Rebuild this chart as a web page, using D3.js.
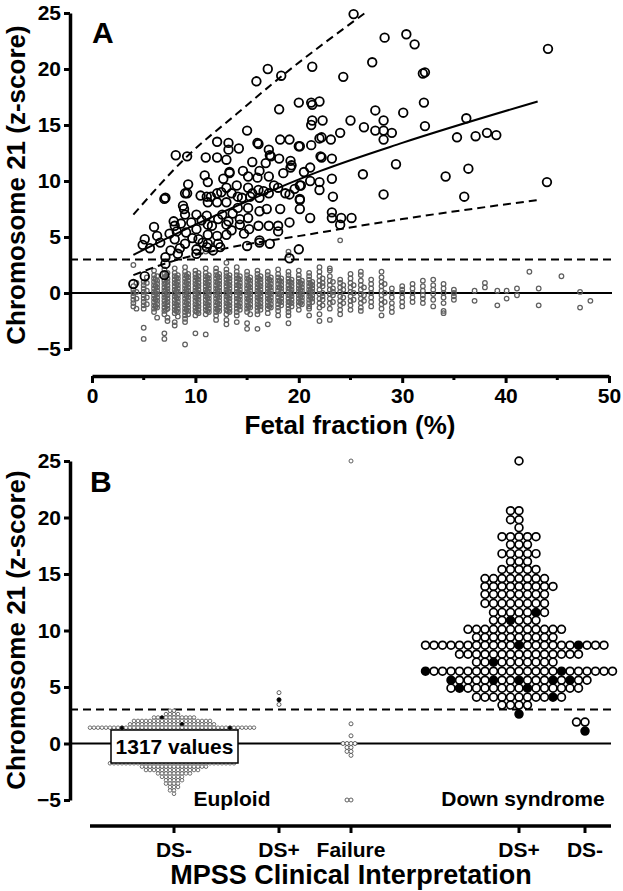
<!DOCTYPE html>
<html><head><meta charset="utf-8">
<script src="https://cdn.jsdelivr.net/npm/d3@7"></script>
<style>body{margin:0;background:#fff}svg{display:block}text{font-family:"Liberation Sans",Arial,sans-serif;font-weight:bold;fill:#000}</style>
</head><body><div id="chart"></div>
<script>
// ---------- DATA ----------
const fetalTicks = [0,10,20,30,40,50];
const fetalMinor = [5,15,25,35,45];
const zTicks = [-5,0,5,10,15,20,25];
const cutoffZ = 3;

// Panel A: Down syndrome cases [fetal fraction %, z-score]
const dsPointsA = [
[4.0,0.8],[4.9,4.3],[5.1,4.8],[5.1,1.5],[6.0,5.9],[6.3,5.1],[7.0,8.4],[7.1,3.2],[7.1,2.6],[7.0,1.6],[8.3,3.5],[7.9,6.4],[8.0,6.0],[8.2,5.5],[8.0,4.8],[9.0,7.0],[9.1,5.4],[9.0,4.4],[9.3,9.7],[9.2,8.9],[8.8,7.8],[8.9,7.5],[10.1,7.0],[10.1,5.7],[10.3,4.8],[10.1,3.9],[10.1,3.5],[11.1,8.6],[11.2,8.1],[11.1,6.9],[11.2,6.1],[11.2,5.2],[11.2,4.4],[11.1,4.1],[12.1,8.9],[12.1,8.1],[12.2,6.6],[12.1,5.1],[12.2,4.4],[12.4,4.1],[13.0,9.4],[13.0,8.1],[13.2,6.4],[13.0,6.1],[13.0,5.2],[14.1,8.6],[14.1,7.6],[14.3,6.6],[14.3,6.1],[15.1,9.4],[15.3,8.6],[15.1,7.6],[15.1,6.7],[15.2,5.7],[15.0,4.2],[16.1,9.2],[16.2,8.5],[16.2,7.3],[16.1,6.0],[16.2,4.7],[16.2,4.5],[17.1,8.9],[16.9,7.5],[17.1,6.0],[17.2,4.4],[18.0,9.4],[18.2,7.5],[18.0,5.5],[18.0,6.0],[19.1,8.8],[19.1,6.3],[19.1,3.1],[20.1,8.3],[20.1,7.5],[20.0,3.9],[21.1,6.7],
[7.5,5.3],[8.6,6.2],[9.6,6.3],[10.6,6.5],[11.6,6.0],[12.6,7.0],[13.6,7.1],[9.7,4.9],[10.7,4.5],[11.7,3.8],[13.5,5.6],[14.7,5.3],[8.5,4.0],[6.6,4.5],[5.6,4.0],[7.6,3.8],
[8.1,12.3],[9.2,12.2],[15.9,18.9],[17.0,20.0],[18.3,19.4],[21.3,20.2],[18.1,16.4],[20.0,17.0],[21.2,17.0],[21.3,16.8],[22.0,17.1],[15.0,14.5],[12.1,13.5],[13.2,13.4],[13.2,12.8],[16.0,13.4],[16.1,13.3],[17.1,12.8],[17.2,12.3],[17.3,12.2],[18.2,13.7],[19.1,13.7],[20.0,13.1],[21.3,15.4],[21.2,13.2],[22.0,13.8],[14.2,12.9],[11.0,12.1],[12.1,12.1],[13.0,11.9],[13.3,10.7],[13.3,10.8],[19.2,11.8],[19.3,11.4],[19.2,11.2],[21.1,11.2],[22.1,12.2],[11.2,9.9],[15.1,10.4],[16.0,10.3],[16.2,10.9],[17.1,10.4],[20.2,9.6],[21.1,10.0],[22.0,9.9],[7.1,8.5],[9.0,8.9],
[10.5,8.7],[11.5,8.6],[12.5,9.0],[13.5,8.9],[14.0,9.6],[14.5,8.5],[15.5,8.9],[16.6,9.1],[17.6,9.6],[18.7,8.9],[19.6,9.3],[12.7,10.2],[14.6,10.9],[10.9,10.5],[18.5,10.7],[20.5,10.8],[16.8,11.6],[18.1,12.0],[15.5,11.7],
[25.3,24.9],[28.3,22.8],[30.4,23.1],[31.2,22.2],[44.1,21.8],[27.1,20.6],[24.3,19.3],[32.0,19.6],[32.2,19.7],[32.1,17.0],[27.4,16.3],[30.1,16.1],[22.3,15.4],[21.2,15.0],[25.0,15.4],[26.3,14.8],[27.4,14.5],[28.2,15.4],[28.2,14.5],[29.0,14.3],[28.2,13.7],[32.2,14.9],[20.1,13.1],[22.2,13.9],[23.1,13.7],[24.0,14.3],[36.2,15.6],[35.3,13.9],[37.1,14.0],[38.2,14.3],[39.1,14.1],[22.2,12.1],[23.2,12.0],[29.4,11.5],[26.2,10.6],[34.2,10.4],[36.4,11.1],[20.1,9.6],[22.0,9.2],[23.2,10.2],[23.3,8.6],[28.2,8.8],[36.0,8.6],[44.0,9.9],[20.1,8.4],[23.2,7.2],[23.2,6.7],[24.1,6.7],[24.0,6.1],[25.1,6.7]
];

// Panel A: euploid samples, grouped by fetal fraction [fraction %, z-scores]
const euploidA = [
[4.0,[0.6,0.3,0.0,-0.3,-0.6,-0.9,-1.2,2.5]],[4.3,[0.9,0.1,-0.5,-1.4]],
[5.0,[1.0,0.7,0.4,0.1,-0.2,-0.5,-0.8,-1.1,-1.4,-3.1,-4.1]],[5.3,[1.4,0.9,0.2,-0.4,-1.0]],
[6.0,[2.0,1.6,1.3,1.0,0.7,0.4,0.1,-0.2,-0.5,-0.8,-1.1,-1.4,-1.7]],[6.15,[1.2,0.6,0.0,-0.6,-1.2]],[6.3,[1.5,1.1,0.8,0.5,0.2,-0.1,-0.4,-0.7,-1.0,-1.3,-2.2]],
[7.0,[2.1,1.7,1.4,1.1,0.8,0.5,0.2,-0.1,-0.4,-0.7,-1.0,-1.3,-1.6,-1.9,-3.6,-4.1]],[7.15,[1.5,0.9,0.3,-0.3,-0.9,-1.5]],[7.3,[1.8,1.3,1.0,0.7,0.4,0.1,-0.2,-0.5,-0.8,-1.1,-1.4,-2.2,-2.5]],
[8.0,[2.2,1.8,1.5,1.2,0.9,0.6,0.3,0.0,-0.3,-0.6,-0.9,-1.2,-1.5,-1.8,-2.6,-2.9]],[8.15,[1.4,0.8,0.2,-0.4,-1.0,-1.6]],[8.3,[1.6,1.3,1.0,0.7,0.4,0.1,-0.2,-0.5,-0.8,-1.1,-1.4,-1.7,-2.1]],
[9.0,[2.3,1.9,1.6,1.3,1.0,0.7,0.4,0.1,-0.2,-0.5,-0.8,-1.1,-1.4,-1.7,-2.0,-2.3,-2.6,-4.6]],[9.15,[1.5,0.9,0.3,-0.3,-0.9,-1.5]],[9.3,[1.7,1.4,1.1,0.8,0.5,0.2,-0.1,-0.4,-0.7,-1.0,-1.3,-1.6,-1.9]],
[10.0,[2.0,1.7,1.4,1.1,0.8,0.5,0.2,-0.1,-0.4,-0.7,-1.0,-1.3,-1.6,-2.0,-3.6]],[10.15,[1.3,0.7,0.1,-0.5,-1.1,-1.7]],[10.3,[1.8,1.5,1.2,0.9,0.6,0.3,0.0,-0.3,-0.6,-0.9,-1.2,-1.5,-1.8]],
[11.0,[2.2,1.8,1.5,1.2,0.9,0.6,0.3,0.0,-0.3,-0.6,-0.9,-1.2,-1.5,-1.9,-3.7,3.7]],[11.15,[1.4,0.8,0.2,-0.4,-1.0,-1.6]],[11.3,[1.6,1.3,1.0,0.7,0.4,0.1,-0.2,-0.5,-0.8,-1.1,-1.4,-1.7]],
[12.0,[2.2,1.9,1.6,1.3,1.0,0.7,0.4,0.1,-0.2,-0.5,-0.8,-1.1,-1.4,-1.7,-2.0,-2.4]],[12.15,[1.5,0.9,0.3,-0.3,-0.9,-1.5]],[12.3,[1.7,1.4,1.1,0.8,0.5,0.2,-0.1,-0.4,-0.7,-1.0,-1.3,-1.6]],
[13.0,[2.7,2.1,1.8,1.5,1.2,0.9,0.6,0.3,0.0,-0.3,-0.6,-0.9,-1.2,-1.5,-1.9,-2.4,-2.8]],[13.15,[1.4,0.8,0.2,-0.4,-1.0,-1.6]],[13.3,[1.6,1.3,1.0,0.7,0.4,0.1,-0.2,-0.5,-0.8,-1.1,-1.4,-1.7]],
[14.0,[2.3,1.9,1.6,1.3,1.0,0.7,0.4,0.1,-0.2,-0.5,-0.8,-1.1,-1.4,-1.7,-2.0,-2.6]],[14.15,[1.3,0.7,0.1,-0.5,-1.1]],[14.3,[1.5,1.2,0.9,0.6,0.3,0.0,-0.3,-0.6,-0.9,-1.2,-1.5]],
[15.0,[1.9,1.6,1.3,1.0,0.7,0.4,0.1,-0.2,-0.5,-0.8,-1.1,-1.4,-1.7,-2.7,-3.2]],[15.15,[1.2,0.6,0.0,-0.6,-1.2]],[15.3,[1.4,1.1,0.8,0.5,0.2,-0.1,-0.4,-0.7,-1.0,-1.3,-1.9]],
[16.0,[2.0,1.7,1.4,1.1,0.8,0.5,0.2,-0.1,-0.4,-0.7,-1.0,-1.3,-1.6,-1.9,-3.2]],[16.15,[1.3,0.7,0.1,-0.5,-1.1]],[16.3,[1.5,1.2,0.9,0.6,0.3,0.0,-0.3,-0.6,-0.9,-1.2,-1.5]],
[17.0,[1.9,1.6,1.3,1.0,0.7,0.4,0.1,-0.2,-0.5,-0.8,-1.1,-1.4,-1.8,-2.8]],[17.15,[1.2,0.6,0.0,-0.6,-1.2]],[17.3,[1.4,1.1,0.8,0.5,0.2,-0.1,-0.4,-0.7,-1.0,-1.3]],
[18.0,[2.1,1.7,1.4,1.1,0.8,0.5,0.2,-0.1,-0.4,-0.7,-1.0,-1.3,-1.6,-2.0]],[18.15,[1.1,0.5,-0.1,-0.7]],[18.3,[1.3,1.0,0.7,0.4,0.1,-0.2,-0.5,-0.8,-1.1]],
[19.0,[3.7,3.4,1.9,1.6,1.3,1.0,0.7,0.4,0.1,-0.2,-0.5,-0.8,-1.1,-1.4,-1.7,-2.0,-2.7]],[19.15,[1.0,0.4,-0.2,-0.8]],[19.3,[1.2,0.9,0.6,0.3,0.0,-0.3,-0.6,-0.9,-1.2]],
[20.0,[2.0,1.6,1.3,1.0,0.7,0.4,0.1,-0.2,-0.5,-0.8,-1.1,-1.5]],[20.15,[0.9,0.3,-0.3,-0.9]],[20.3,[1.1,0.8,0.5,0.2,-0.1,-0.4,-0.7,-1.0]],
[21.0,[1.8,1.5,1.2,0.9,0.6,0.3,0.0,-0.3,-0.6,-0.9,-1.2,-1.4,-2.0]],[21.15,[0.8,0.2,-0.4]],[21.3,[1.0,0.7,0.4,0.1,-0.2,-0.5,-0.8]],
[22.0,[2.3,1.9,1.5,1.1,0.7,0.3,-0.1,-0.5,-0.9,-1.3,-1.9,-2.5]],[22.3,[1.3,0.9,0.6,0.0,-0.3,-0.6,-1.1]],
[23.0,[2.2,2.0,1.5,1.1,0.7,0.3,-0.1,-0.5,-0.9,-1.4,-2.4]],[23.3,[1.0,0.4,0.1,-0.2,-0.8]],
[24.0,[4.7,1.2,0.9,0.5,0.1,-0.3,-0.7,-1.1,-1.5,-1.9]],[24.3,[0.7,0.3,-0.4,-0.9]],
[25.0,[1.7,1.3,0.9,0.5,0.1,-0.3,-0.7,-1.1,-1.5]],[25.3,[0.7,0.0,-0.6]],
[26.0,[1.9,1.6,1.1,0.7,0.3,-0.1,-0.5,-0.9,-1.3,-1.6]],[26.3,[0.5,-0.2,-0.7]],
[27.0,[1.2,0.8,0.4,0.0,-0.4,-0.8,-1.2]],
[28.0,[1.9,1.4,1.0,0.6,0.2,-0.2,-0.6,-1.0,-1.4,-2.0]],[28.3,[0.8,0.0,-0.8]],
[29.0,[0.4,0.0,-0.4,-0.9,-1.3,-1.7]],[30.0,[0.6,0.3,0.0,-0.4,-0.8,-1.2]],
[31.0,[0.8,0.4,0.0,-0.4,-0.8]],[32.0,[1.1,0.6,0.2,-0.2,-0.5,-0.9]],
[33.0,[1.2,0.7,0.3,-0.1,-0.6,-1.2]],[34.0,[0.8,0.4,0.0,-0.4,-0.9,-1.6,-1.8]],
[35.0,[0.3,0.0,-0.3,-0.6]],[37.0,[0.2,-0.7]],[38.0,[0.9,0.5]],[39.2,[0.2,-1.1]],
[40.1,[0.2,-0.5]],[41.1,[0.4,-0.2]],[42.3,[1.9]],[43.2,[0.4,-1.1]],[45.4,[1.5]],
[47.2,[0.1,-1.3]],[48.2,[-0.7]]
];

// Panel A fitted curves [fetal fraction %, z]
const fitMedian = [[4.0,3.4],[10,6.1],[17.8,9.3],[22.1,10.9],[30,13.4],[43.1,17.1]];
const fitUpper  = [[4.0,7.0],[9.2,12.2],[14,16.0],[18.4,19.4],[26.4,25.0]];
const fitLower  = [[4.0,1.6],[7.3,2.7],[13,4.0],[20.1,5.1],[30,6.6],[43.1,8.3]];

// Panel B: categories (MPSS interpretation) and groups
const bCategories = ["euDSneg","euDSpos","failure","dsDSpos","dsDSneg"];
const bTickLabels = ["DS-","DS+","Failure","DS+","DS-"];
const bGroupLabels = ["Euploid","Down syndrome"];
const euploidCount = "1317 values";
// binned rows: [z, count, indices of filled points]
const euDSnegRows = [[2.9,2,[]],[2.6,4,[]],[2.3,11,[2]],[2.0,20,[]],[1.7,22,[13]],[1.4,42,[8,35]],
  [-1.75,32,[]],[-2.05,17,[]],[-2.35,14,[]],[-2.65,9,[]],[-2.95,6,[]],[-3.25,5,[]],[-3.55,4,[]],[-3.85,3,[]],[-4.15,2,[]],[-4.45,1,[]]];
const euDSposRows = [[4.5,1,[]],[3.87,1,[0]],[3.45,1,[]]];
const failureRows = [[25.0,1,[]],[1.74,1,[]],[0.68,1,[]],[0.0,4,[]],[-0.35,2,[]],[-0.7,2,[]],[-1.05,1,[]],[-5.0,2,[]]];
const dsDSposRows = [[25.0,1,[]],[20.6,2,[]],[19.8,2,[]],[19.1,1,[]],[18.3,5,[]],[17.6,3,[]],[16.8,5,[]],[16.1,3,[]],[15.4,5,[]],
  [14.6,8,[]],[13.9,9,[]],[13.2,8,[]],[12.4,8,[]],[11.6,7,[5]],[10.9,6,[2]],[10.1,12,[]],[9.4,10,[]],[8.7,22,[11,18]],
  [7.9,15,[]],[7.2,10,[2]],[6.4,23,[0,16]],[5.6,17,[0,5,8,12,14]],[4.9,16,[1,9]],[4.1,11,[9]],[3.4,4,[]],[2.6,1,[0]]];
const dsDSnegRows = [[1.9,2,[]],[1.1,1,[0]]];

// ---------- DRAW ----------
const W=623,H=891;
const svg=d3.select("#chart").append("svg").attr("width",W).attr("height",H);
svg.append("rect").attr("width",W).attr("height",H).attr("fill","#fff");
const GREY="#606060";

function styleAxis(g, w){
  g.select(".domain").attr("stroke","#000").attr("stroke-width",w);
  g.selectAll(".tick line").attr("stroke","#000").attr("stroke-width",3);
  g.selectAll(".tick text").attr("font-size",21).attr("font-family","Liberation Sans, Arial, sans-serif").attr("font-weight","bold").attr("fill","#000");
}

// ===== Panel A =====
const xA=d3.scaleLinear().domain([0,50]).range([92,609]);
const yA=d3.scaleLinear().domain([-5,25]).range([349,13]);
const lineEndA = 612;

svg.append("line").attr("x1",70).attr("x2",lineEndA).attr("y1",yA(0)).attr("y2",yA(0)).attr("stroke","#000").attr("stroke-width",2);
svg.append("line").attr("x1",70).attr("x2",lineEndA).attr("y1",yA(cutoffZ)).attr("y2",yA(cutoffZ)).attr("stroke","#000").attr("stroke-width",2).attr("stroke-dasharray","8,5");

const gA=svg.append("g");
euploidA.forEach(([x,zs])=>{
  zs.forEach(z=>{
    gA.append("circle").attr("cx",xA(x)).attr("cy",yA(z)).attr("r",2.3).attr("fill","none").attr("stroke",GREY).attr("stroke-width",1.25);
  });
});

const lineGen=d3.line().x(d=>xA(d[0])).y(d=>yA(d[1])).curve(d3.curveMonotoneX);
svg.append("path").attr("d",lineGen(fitMedian)).attr("fill","none").attr("stroke","#000").attr("stroke-width",2);
svg.append("path").attr("d",lineGen(fitUpper)).attr("fill","none").attr("stroke","#000").attr("stroke-width",2).attr("stroke-dasharray","8,5");
svg.append("path").attr("d",lineGen(fitLower)).attr("fill","none").attr("stroke","#000").attr("stroke-width",2).attr("stroke-dasharray","8,5");

svg.append("g").selectAll("circle").data(dsPointsA).join("circle")
  .attr("cx",d=>xA(d[0])).attr("cy",d=>yA(d[1])).attr("r",4.3)
  .attr("fill","none").attr("stroke","#000").attr("stroke-width",1.8);

const yAxisA=svg.append("g").attr("transform","translate(70,0)")
  .call(d3.axisLeft(yA).tickValues(zTicks).tickSize(6).tickSizeOuter(0).tickPadding(3));
styleAxis(yAxisA,3.5);
const xAxisA=svg.append("g").attr("transform","translate(0,376)")
  .call(d3.axisBottom(xA).tickValues(fetalTicks).tickSize(7).tickSizeOuter(0).tickPadding(5));
styleAxis(xAxisA,3.5);
svg.append("g").selectAll("line").data(fetalMinor).join("line")
  .attr("x1",d=>xA(d)).attr("x2",d=>xA(d)).attr("y1",376).attr("y2",380).attr("stroke","#000").attr("stroke-width",3);

svg.append("text").attr("x",92).attr("y",43).attr("font-size",30).text("A");
svg.append("text").attr("transform","translate(25,185) rotate(-90)").attr("text-anchor","middle").attr("font-size",26).text("Chromosome 21 (z-score)");
svg.append("text").attr("x",350).attr("y",434).attr("text-anchor","middle").attr("font-size",26).text("Fetal fraction (%)");

// ===== Panel B =====
const yB=d3.scaleLinear().domain([-5,25]).range([800,461]);
const xB=d3.scaleOrdinal().domain(bCategories).range([174,279,351,519,585]);
const lineEndB=611;

svg.append("line").attr("x1",70).attr("x2",lineEndB).attr("y1",yB(0)).attr("y2",yB(0)).attr("stroke","#000").attr("stroke-width",2);
svg.append("line").attr("x1",70).attr("x2",lineEndB).attr("y1",yB(cutoffZ)).attr("y2",yB(cutoffZ)).attr("stroke","#000").attr("stroke-width",2).attr("stroke-dasharray","8,5");

function swarm(rows, cx, spacing, r, strokeCol, sw){
  const g=svg.append("g");
  rows.forEach(([z,n,filled])=>{
    const start=-Math.floor(n/2);
    for(let i=0;i<n;i++){
      const f=filled.includes(i);
      g.append("circle").attr("cx",cx+(start+i)*spacing).attr("cy",yB(z)).attr("r",r)
        .attr("fill",f?"#000":"#fff").attr("stroke",f?"#000":strokeCol).attr("stroke-width",sw);
    }
  });
}
swarm(euDSnegRows, xB("euDSneg"), 4, 1.8, GREY, 0.9);
swarm(euDSposRows, xB("euDSpos"), 4, 2.0, GREY, 1);
swarm(failureRows, xB("failure"), 4, 2.0, GREY, 1);
swarm(dsDSposRows, xB("dsDSpos"), 8.5, 3.9, "#000", 1.7);
swarm(dsDSnegRows, xB("dsDSneg"), 8.5, 3.9, "#000", 1.7);

svg.append("rect").attr("x",111).attr("y",730).attr("width",127).attr("height",33).attr("fill","#fff").attr("stroke","#000").attr("stroke-width",1.5);
svg.append("text").attr("x",174.5).attr("y",754).attr("text-anchor","middle").attr("font-size",21).text(euploidCount);

const yAxisB=svg.append("g").attr("transform","translate(70,0)")
  .call(d3.axisLeft(yB).tickValues(zTicks).tickSize(6).tickSizeOuter(0).tickPadding(3));
styleAxis(yAxisB,3.5);
svg.append("line").attr("x1",90).attr("x2",611).attr("y1",826).attr("y2",826).attr("stroke","#000").attr("stroke-width",3.5);
const bt=svg.append("g");
bCategories.forEach((c,i)=>{
  bt.append("line").attr("x1",xB(c)).attr("x2",xB(c)).attr("y1",826).attr("y2",833).attr("stroke","#000").attr("stroke-width",3);
  bt.append("text").attr("x",xB(c)).attr("y",857).attr("text-anchor","middle").attr("font-size",21).text(bTickLabels[i]);
});
svg.append("text").attr("x",232).attr("y",806).attr("text-anchor","middle").attr("font-size",21).text(bGroupLabels[0]);
svg.append("text").attr("x",523).attr("y",806).attr("text-anchor","middle").attr("font-size",21).text(bGroupLabels[1]);
svg.append("text").attr("x",351).attr("y",884).attr("text-anchor","middle").attr("font-size",27).text("MPSS Clinical Interpretation");
svg.append("text").attr("x",90).attr("y",492).attr("font-size",30).text("B");
svg.append("text").attr("transform","translate(25,630) rotate(-90)").attr("text-anchor","middle").attr("font-size",26).text("Chromosome 21 (z-score)");
</script></body></html>
